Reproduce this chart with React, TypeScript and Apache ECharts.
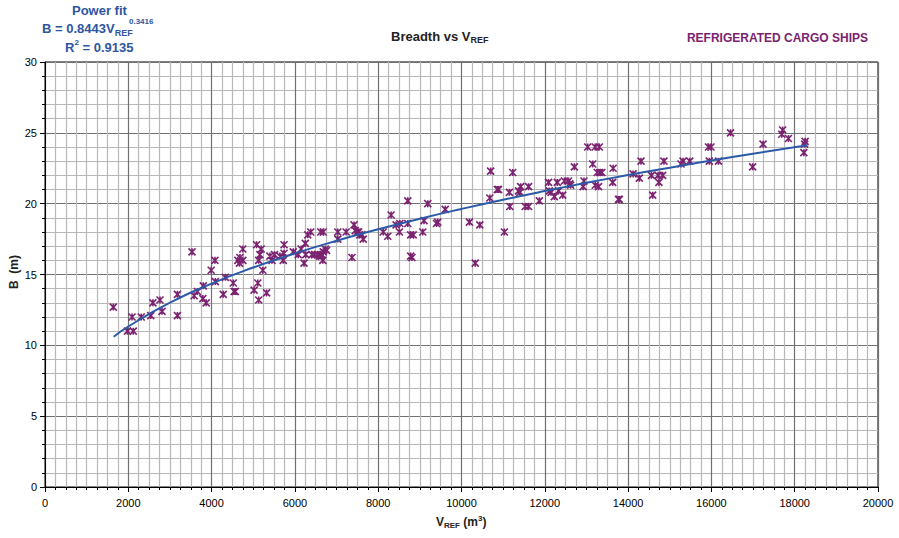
import React, { useEffect, useRef } from "react";
import * as echarts from "echarts";

const vref: number[] = [
  1640, 1980, 2120, 2090, 2310, 2540, 2590, 2760, 2810, 3180, 3180, 3530, 3580, 3660, 3800, 3790, 3870,
  3990, 4080, 4090, 4280, 4330, 4520, 4540, 4570, 4630, 4680, 4750, 4670, 4750, 5020, 5080, 5110, 5130,
  5190, 5160, 5130, 5230, 5320, 5400, 5450, 5510, 5740, 5740, 5640, 5720, 5960, 6080, 6150, 6250, 6220,
  6260, 6310, 6380, 6410, 6470, 6540, 6590, 6650, 6680, 6730, 6760, 6670, 6630, 6620, 6680, 7030, 7030,
  7230, 7370, 7420, 7500, 7530, 7560, 7610, 7640, 7450, 8120, 8230, 8310, 8430, 8520, 8510, 8710, 8710,
  8780, 8840, 8780, 8810, 9070, 9100, 9190, 9400, 9430, 9610, 10190, 10330, 10440, 10680, 10700, 10860,
  10890, 11030, 11150, 11160, 11230, 11400, 11420, 11370, 11530, 11610, 11610, 11870, 12090, 12110, 12150,
  12230, 12300, 12330, 12430, 12470, 12570, 12600, 12620, 12710, 12940, 12920, 13030, 13210, 13310, 13150,
  13260, 13320, 13370, 13210, 13290, 13640, 13630, 13770, 13790, 14120, 14270, 14310, 14560, 14590, 14720,
  14830, 14740, 14860, 15270, 15320, 15480, 15930, 15990, 15950, 16170, 16460, 16990, 17240, 17710, 17690,
  17850, 18250, 18240, 18220,
];
const breadth: number[] = [
  12.7, 11.0, 11.0, 12.0, 12.0, 12.1, 13.0, 13.2, 12.4, 12.1, 13.6, 16.6, 13.5, 13.8, 14.2, 13.3, 13.0,
  15.3, 16.0, 14.5, 13.6, 14.8, 14.4, 13.8, 13.8, 16.0, 16.2, 16.0, 15.8, 16.8, 13.9, 17.1, 14.4, 13.2,
  16.8, 16.4, 16.0, 15.3, 13.7, 16.3, 16.0, 16.4, 17.1, 16.5, 16.3, 16.0, 16.6, 16.4, 16.8, 17.2, 15.8,
  16.4, 17.8, 18.0, 16.4, 16.4, 16.4, 16.3, 16.4, 16.6, 16.8, 16.7, 16.0, 16.3, 18.0, 18.0, 18.0, 17.5,
  18.0, 16.2, 18.5, 18.0, 18.0, 17.8, 17.8, 17.5, 18.1, 18.0, 17.7, 19.2, 18.5, 18.6, 18.0, 18.6, 20.2,
  17.8, 17.8, 16.3, 16.2, 18.0, 18.8, 20.0, 18.6, 18.7, 19.6, 18.7, 15.8, 18.5, 20.4, 22.3, 21.0,
  21.0, 18.0, 20.8, 19.8, 22.2, 20.8, 21.2, 20.9, 19.8, 19.8, 21.2, 20.2, 21.5, 20.9, 20.8,
  20.5, 21.5, 20.9, 20.6, 21.6, 21.6, 21.4, 21.3, 22.6, 21.6, 21.2, 24.0, 24.0, 24.0, 22.8,
  22.2, 22.2, 22.2, 21.3, 21.2, 22.5, 21.5, 20.3, 20.3, 22.1, 21.8, 23.0, 22.0, 20.6, 22.0,
  22.0, 21.5, 23.0, 22.8, 23.0, 23.0, 24.0, 24.0, 23.0, 23.0, 25.0, 22.6, 24.2, 25.2, 24.9,
  24.6, 24.4, 24.2, 23.6,
];

// Power-fit trend line points
const fitV: number[] = [1650, 2000, 3000, 4000, 5000, 6000, 7000, 8000, 9000, 10000, 11000, 12000, 13000, 14000, 15000, 16000, 17000, 18300];
const fitB: number[] = [10.61, 11.33, 13.01, 14.36, 15.49, 16.49, 17.38, 18.19, 18.94, 19.63, 20.28, 20.89, 21.47, 22.02, 22.54, 23.05, 23.53, 24.13];

const xTicks = { min: 0, max: 20000, interval: 2000 };
const yTicks = { min: 0, max: 30, interval: 5 };

const PURPLE = "#7b2270";
const BLUE = "#2e55a4";
const FONT = "'Liberation Sans', Arial, sans-serif";
const NARROW = "'Liberation Sans Narrow', 'Arial Narrow', 'Liberation Sans', sans-serif";

type Part = { t: string; size: number; dy: number };

function measure(text: string, font: string): number {
  const c = document.createElement("canvas");
  const ctx = c.getContext("2d");
  if (!ctx) return text.length * 7;
  ctx.font = font;
  return ctx.measureText(text).width;
}

function runText(x: number, cy: number, parts: Part[], color: string, family: string, anchorRight = false): any[] {
  const widths = parts.map((p) => measure(p.t, `bold ${p.size}px ${family}`));
  const total = widths.reduce((a, b) => a + b, 0);
  let cx = anchorRight ? x - total : x;
  return parts.map((p, i) => {
    const el = {
      type: "text",
      x: cx,
      y: cy + p.dy,
      silent: true,
      style: { text: p.t, fill: color, font: `bold ${p.size}px ${family}`, align: "left", verticalAlign: "middle" },
    };
    cx += widths[i];
    return el;
  });
}

export default function App() {
  const ref = useRef<HTMLDivElement>(null);
  useEffect(() => {
    if (!ref.current) return;
    const chart = echarts.init(ref.current, undefined, { renderer: "svg" });
    const scatterData = vref.map((v, i) => [v, breadth[i]]);
    const fitData = fitV.map((v, i) => [v, fitB[i]]);

    const eqParts = runText(42, 28, [
      { t: "B = 0.8443V", size: 13, dy: 0 },
      { t: "REF", size: 9, dy: 5 },
    ], BLUE, FONT);
    const supX = 129;
    const graphics: any[] = [
      ...runText(72, 10, [{ t: "Power fit", size: 13, dy: 0 }], BLUE, FONT),
      ...eqParts,
      { type: "text", x: supX, y: 21, silent: true, style: { text: "0.3416", fill: BLUE, font: `bold 8px ${FONT}`, verticalAlign: "middle" } },
      ...runText(65, 47, [
        { t: "R", size: 13, dy: 0 },
        { t: "2", size: 8, dy: -5 },
        { t: " = 0.9135", size: 13, dy: 0 },
      ], BLUE, FONT),
      ...runText(391, 36, [
        { t: "Breadth vs V", size: 13, dy: 0 },
        { t: "REF", size: 9, dy: 4 },
      ], "#222", FONT),
      ...runText(868, 38, [{ t: "REFRIGERATED CARGO SHIPS", size: 12, dy: 0 }], PURPLE, FONT, true),
      ...runText(436, 522, [
        { t: "V", size: 12, dy: 0 },
        { t: "REF", size: 8, dy: 3 },
        { t: " (m", size: 12, dy: 0 },
        { t: "3", size: 8, dy: -4 },
        { t: ")", size: 12, dy: 0 },
      ], "#222", NARROW),
      {
        type: "text",
        x: 14,
        y: 272,
        rotation: Math.PI / 2,
        silent: true,
        style: { text: "B  (m)", fill: "#222", font: `bold 12px ${NARROW}`, align: "center", verticalAlign: "middle" },
      },
    ];

    chart.setOption({
      animation: false,
      backgroundColor: "#fff",
      grid: { left: 45, right: 21, top: 62, bottom: 51, show: true, borderColor: "#000", borderWidth: 1 },
      xAxis: {
        type: "value",
        min: xTicks.min,
        max: xTicks.max,
        interval: xTicks.interval,
        axisLine: { show: true, onZero: false, lineStyle: { color: "#000", width: 1 } },
        axisTick: { show: true, inside: false, length: 5, lineStyle: { color: "#000" } },
        minorTick: { show: true, splitNumber: 8, length: 3, lineStyle: { color: "#000" } },
        splitLine: { show: true, lineStyle: { color: "#707070", width: 1.2 } },
        minorSplitLine: { show: true, lineStyle: { color: "#b8b8b8", width: 1.2 } },
        axisLabel: { fontSize: 11, color: "#000", fontFamily: NARROW, margin: 10, formatter: (v: number) => String(v) },
      },
      yAxis: {
        type: "value",
        min: yTicks.min,
        max: yTicks.max,
        interval: yTicks.interval,
        axisLine: { show: true, onZero: false, lineStyle: { color: "#000", width: 1 } },
        axisTick: { show: true, inside: false, length: 5, lineStyle: { color: "#000" } },
        minorTick: { show: true, splitNumber: 5, length: 3, lineStyle: { color: "#000" } },
        splitLine: { show: true, lineStyle: { color: "#707070", width: 1.2 } },
        minorSplitLine: { show: true, lineStyle: { color: "#b8b8b8", width: 1.2 } },
        axisLabel: { fontSize: 11, color: "#000", fontFamily: NARROW, margin: 8, formatter: (v: number) => String(v) },
      },
      series: [
        {
          type: "scatter",
          data: scatterData,
          symbol: "path://M0,0L8,8M8,0L0,8M4,0L4,8",
          symbolSize: 7,
          itemStyle: { color: "rgba(0,0,0,0)", borderColor: PURPLE, borderWidth: 1.6, opacity: 1 },
          z: 2,
        },
        {
          type: "line",
          data: fitData,
          smooth: true,
          showSymbol: false,
          lineStyle: { color: "#2b5aa8", width: 2 },
          z: 3,
        },
      ],
      graphic: graphics,
    });
    return () => chart.dispose();
  }, []);
  return <div ref={ref} style={{ position: "fixed", left: 0, top: 0, width: 899, height: 538 }} />;
}
